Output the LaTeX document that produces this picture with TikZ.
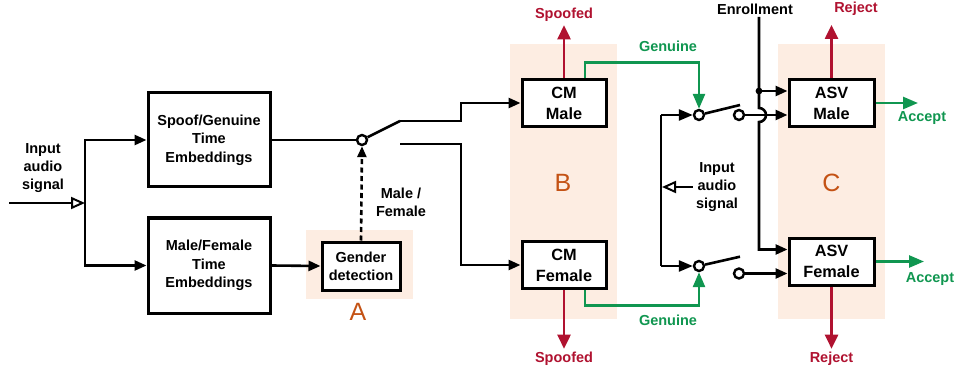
\documentclass[tikz,border=0pt]{standalone}
\usepackage{fontspec}
\setmainfont{Liberation Sans}
\usetikzlibrary{arrows.meta}
\definecolor{rejred}{RGB}{176,18,48}
\definecolor{okgreen}{RGB}{16,150,80}
\definecolor{tagorange}{RGB}{196,82,20}
\definecolor{zone}{RGB}{253,237,226}

\begin{document}
\begin{tikzpicture}[x=1pt,y=-1pt,
  font=\fontsize{14.5}{18.3}\selectfont\bfseries,
  blk/.style={draw,line width=3pt,fill=white,align=center,inner sep=0pt},
  bigblk/.style={blk,font=\fontsize{16.3}{20.8}\selectfont\bfseries},
  wire/.style={line width=2.6pt},
  arr/.style={wire,-{Triangle[length=12pt,width=10pt]}},
  swarr/.style={wire,-{Triangle[length=14pt,width=11pt]}},
  openarr/.style={wire,-{Triangle[open,length=14pt,width=12pt,line width=2pt,fill=white]}},
  redarr/.style={wire,draw=rejred,-{Triangle[length=14pt,width=13pt]}},
  grnarr/.style={wire,draw=okgreen,-{Triangle[length=15pt,width=12pt]}},
  contact/.style={circle,draw,line width=2.4pt,fill=white,inner sep=0pt,minimum size=10pt},
  lbl/.style={align=center},
  redlbl/.style={text=rejred},
  grnlbl/.style={text=okgreen},
  zonetag/.style={text=tagorange,font=\fontsize{25}{30}\selectfont\mdseries},
]
\useasboundingbox (0,0) rectangle (958,374);

% shaded stages
\fill[zone] (306,230) rectangle (413,299);
\fill[zone] (510,44) rectangle (617,319);
\fill[zone] (778,44) rectangle (885,319);
\node[zonetag] (tagA) at (358,312) {A};
\node[zonetag] (tagB) at (563,183) {B};
\node[zonetag] (tagC) at (831.5,183) {C};

% blocks
\node[blk,minimum width=122pt,minimum height=94pt] (sg) at (209,140) {Spoof/Genuine\\Time\\Embeddings};
\node[blk,minimum width=122pt,minimum height=95pt] (mf) at (209,265.5) {Male/Female\\Time\\Embeddings};
\node[blk,minimum width=78pt,minimum height=48pt] (gd) at (361,266) {Gender\\detection};
\node[bigblk,minimum width=84pt,minimum height=47pt] (cmm) at (564,103) {CM\\Male};
\node[bigblk,minimum width=84pt,minimum height=47pt] (cmf) at (564,265) {CM\\Female};
\node[bigblk,minimum width=85pt,minimum height=47pt] (asvm) at (831.5,103) {ASV\\Male};
\node[bigblk,minimum width=85pt,minimum height=47pt] (asvf) at (831.5,261.5) {ASV\\Female};

% input and embeddings
\node[lbl] (inp) at (43,168) {Input\\audio\\signal};
\coordinate (insrc) at (9,203);
\coordinate (split) at (85,203);
\draw[openarr] (insrc) -- (split);
\draw[arr] (split) |- (sg.west);
\draw[arr] (split) |- (mf.west);
\draw[arr] (mf.east) -- (gd.west);

% gender switch
\node[contact] (sw1) at (362,140) {};
\coordinate (c1a) at (400,121);
\coordinate (c1b) at (400,144);
\draw[wire] (sg.east) -- (sw1);
\draw[wire] (sw1) -- (c1a);
\draw[arr] (c1a) -- (461,121) |- (cmm.west);
\draw[arr] (c1b) -- (461,144) |- (cmf.west);
\draw[wire,dash pattern=on 5pt off 3.5pt,-{Triangle[length=11pt,width=9pt]}] (gd.north) -- (sw1.south);
\node[lbl] (mfl) at (401,202) {Male /\\Female};

% countermeasure outputs
\node[redlbl] (sp1) at (564,15) {Spoofed};
\node[redlbl] (sp2) at (564,359) {Spoofed};
\draw[redarr] (cmm.north) -- (sp1.south);
\draw[redarr] (cmf.south) -- (sp2.north);

% CM switches
\node[contact] (sw2a) at (699,115) {};
\node[contact] (sw2b) at (739,115) {};
\node[contact] (sw3a) at (699,266) {};
\node[contact] (sw3b) at (739,273.5) {};
\coordinate (c2) at (740,105);
\coordinate (c3) at (740,256.7);
\draw[wire] (sw2a) -- (c2);
\draw[wire] (sw3a) -- (c3);

\node[grnlbl] (gen1) at (668,46) {Genuine};
\node[grnlbl] (gen2) at (668,320) {Genuine};
\draw[grnarr] ([xshift=21pt]cmm.north) |- (699,62.7) -- (sw2a.north);
\draw[grnarr] ([xshift=21pt]cmf.south) |- (699,305.7) -- (sw3a.south);

% second audio input rail
\node[lbl] (inp2) at (717,187) {Input\\audio\\signal};
\coordinate (railt) at (661,115);
\coordinate (railb) at (661,266);
\coordinate (railm) at (662,187);
\draw[wire] (railt) -- (railb);
\draw[swarr] (railt) -- (sw2a.west);
\draw[swarr] (railb) -- (sw3a.west);
\draw[openarr] (inp2.west) -- (railm);

% enrollment feed with hop
\node (enr) at (755,9) {Enrollment};
\coordinate (ent) at (759,17);
\coordinate (endot) at (759,91);
\draw[arr] (ent) -- (759,108) arc[start angle=90,end angle=-90,radius=7pt] |- ([yshift=12pt]asvf.west);
\fill (endot) circle (3.4pt);
\draw[arr] (endot) -- ([yshift=12pt]asvm.west);
\draw[arr] (sw2b) -- ([yshift=-12pt]asvm.west);
\draw[arr] (sw3b) -- ([yshift=-12pt]asvf.west);

% verification outputs
\coordinate (rjtip) at (831.5,25);
\node[redlbl] (rj1) at (856,9) {Reject};
\node[redlbl] (rj2) at (831.5,359) {Reject};
\draw[redarr] (asvm.north) -- (rjtip);
\draw[redarr] (asvf.south) -- (rj2.north);
\coordinate (acc1tip) at (918,103);
\coordinate (acc2tip) at (924,261.5);
\draw[grnarr] (asvm.east) -- (acc1tip);
\draw[grnarr] (asvf.east) -- (acc2tip);
\node[grnlbl] (acc1) at (922,118) {Accept};
\node[grnlbl] (acc2) at (930,279) {Accept};
\end{tikzpicture}
\end{document}
